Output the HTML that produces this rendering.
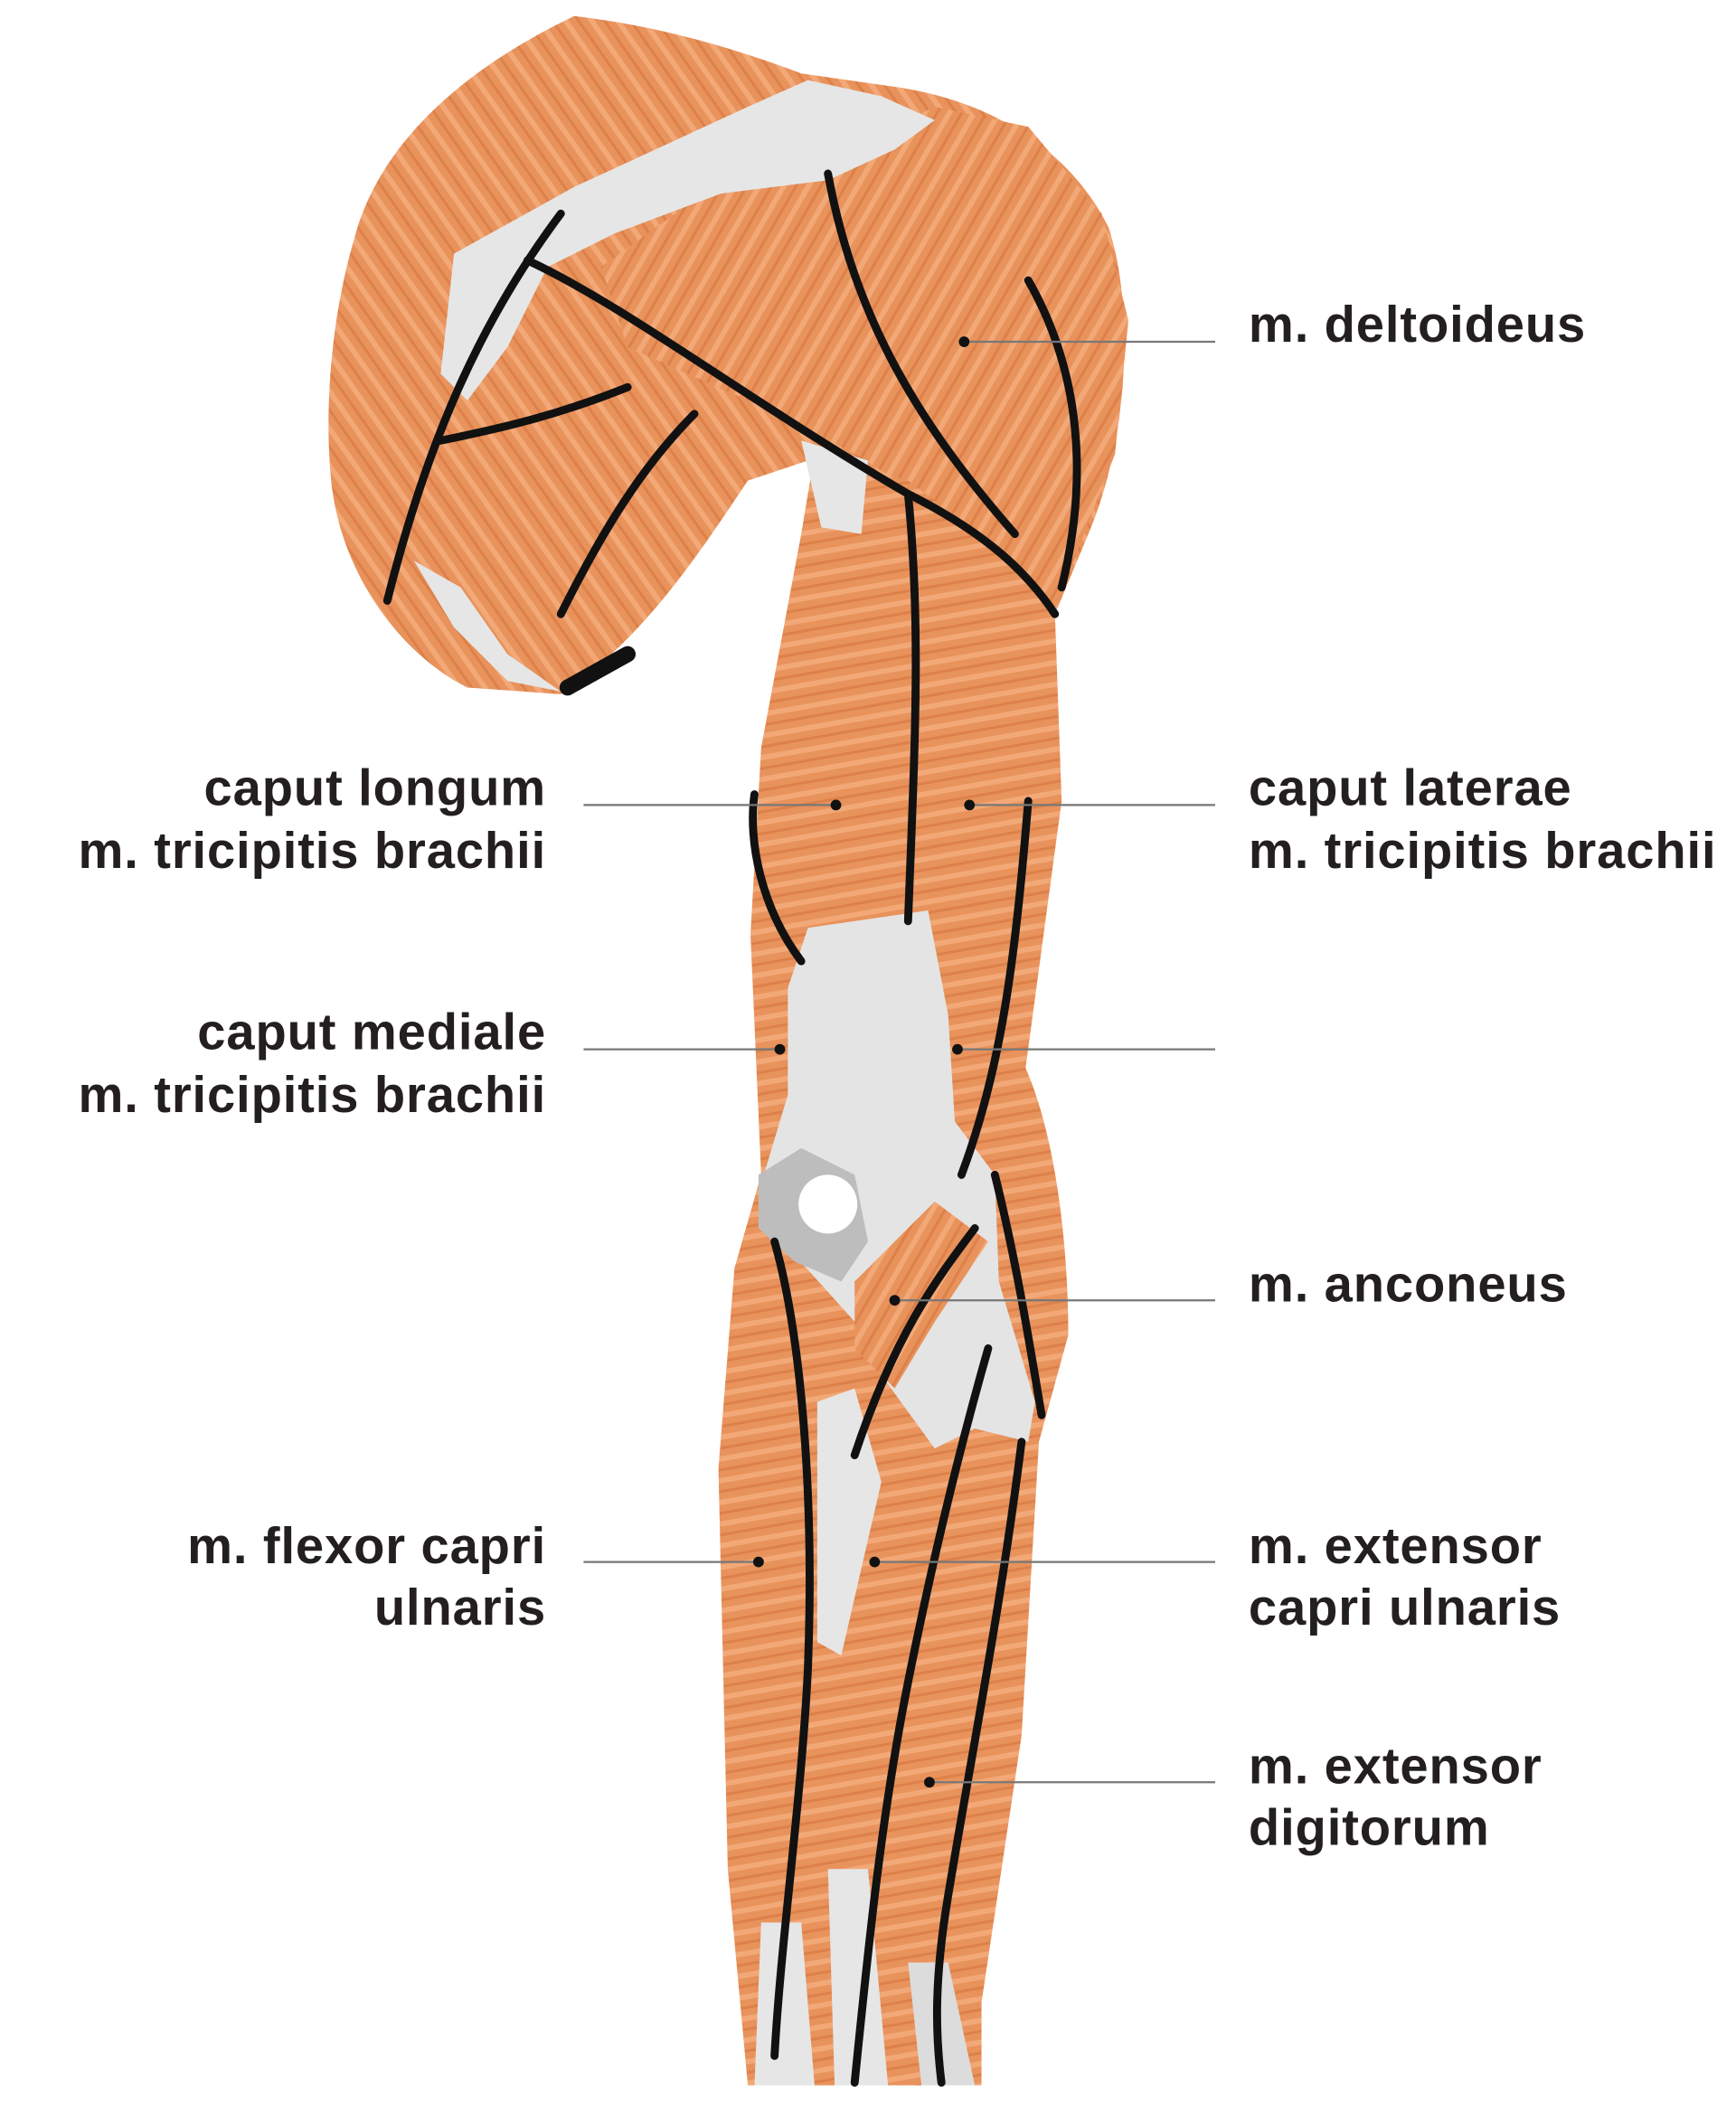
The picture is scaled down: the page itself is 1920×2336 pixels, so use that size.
<!DOCTYPE html>
<html><head><meta charset="utf-8">
<style>
html,body{margin:0;padding:0;background:#fff;}
svg{display:block;}
text{font-family:"Liberation Sans",sans-serif;font-size:38px;fill:#231f20;font-weight:bold;letter-spacing:0.6px;}
</style></head><body>
<svg width="1920" height="2336" viewBox="0 0 1300 1582" preserveAspectRatio="none" xmlns="http://www.w3.org/2000/svg">
<defs>
<pattern id="st" width="16" height="16" patternUnits="userSpaceOnUse" patternTransform="rotate(80)">
<rect width="16" height="16" fill="#e8925c"/>
<rect width="4" height="16" fill="#f2a877"/>
<rect x="9" width="2" height="16" fill="#dd8049"/>
</pattern>
<pattern id="st2" width="16" height="16" patternUnits="userSpaceOnUse" patternTransform="rotate(30)">
<rect width="16" height="16" fill="#e8925c"/>
<rect width="4" height="16" fill="#f2a877"/>
<rect x="9" width="2" height="16" fill="#dd8049"/>
</pattern>
<pattern id="st3" width="16" height="16" patternUnits="userSpaceOnUse" patternTransform="rotate(-35)">
<rect width="16" height="16" fill="#e8925c"/>
<rect width="4" height="16" fill="#f2a877"/>
<rect x="9" width="2" height="16" fill="#dd8049"/>
</pattern>
</defs>
<!-- shoulder/back mass -->
<path d="M265,180 C280,120 330,60 430,12 C500,20 560,40 600,55 L670,65 C740,75 800,110 830,170 C850,230 845,330 815,400 L790,460 L620,340 L560,360 C520,420 480,480 420,520 L350,515 C300,490 255,430 248,360 C242,300 250,230 265,180 Z" fill="url(#st3)"/>
<!-- deltoid -->
<path d="M450,200 L520,150 L620,120 L700,80 L770,95 L825,160 L845,240 L835,340 L800,430 L790,460 L720,390 L640,340 L560,300 L470,260 Z" fill="url(#st2)"/>
<!-- arm -->
<path d="M610,340 L680,360 L760,420 L790,460 L795,600 L768,800 C790,850 800,930 800,1000 L778,1080 L765,1300 L735,1500 L735,1562 L560,1562 L545,1400 L538,1100 L550,950 L570,880 L562,700 L570,560 L600,400 Z" fill="url(#st)"/>
<!-- shoulder tendons -->
<path d="M340,190 L430,140 L560,80 L605,60 L660,72 L700,90 L670,112 L620,135 L540,145 L460,175 L410,200 L380,260 L350,300 L330,280 Z" fill="#e6e6e6"/>
<path d="M600,330 L650,345 L645,400 L615,395 Z" fill="#e6e6e6"/>
<path d="M310,420 L340,470 L380,510 L420,518 L380,490 L345,440 Z" fill="#e6e6e6"/>
<!-- elbow tendon -->
<path d="M605,695 L695,682 L710,760 L715,840 L745,880 L748,960 L775,1050 L770,1080 L730,1070 L700,1085 L660,1030 L640,990 L595,940 L568,915 L572,880 L590,820 L590,740 Z" fill="#e4e4e4"/>
<path d="M568,880 L600,860 L640,880 L650,930 L630,960 L595,945 L568,920 Z" fill="#bdbdbd"/>
<circle cx="620" cy="902" r="22" fill="#fff"/>
<path d="M640,960 L700,900 L740,930 L700,990 L670,1040 L640,1010 Z" fill="url(#st2)"/>
<!-- lower tendons -->
<path d="M570,1440 L600,1440 L610,1562 L565,1562 Z" fill="#e6e6e6"/>
<path d="M620,1400 L650,1400 L665,1562 L625,1562 Z" fill="#e6e6e6"/>
<path d="M680,1470 L710,1470 L730,1562 L690,1562 Z" fill="#dcdcdc"/>
<path d="M612,1050 L640,1040 L660,1110 L630,1240 L612,1230 Z" fill="#e6e6e6"/>
<!-- black lines -->
<g fill="none" stroke="#111" stroke-width="6" stroke-linecap="round">
<path d="M420,160 C360,240 320,330 290,450"/>
<path d="M395,195 C470,230 560,300 680,370 C740,400 770,430 790,460"/>
<path d="M620,130 C640,240 690,320 760,400"/>
<path d="M770,210 C810,280 815,360 795,440"/>
<path d="M330,330 C380,320 420,310 470,290"/>
<path d="M520,310 C480,350 450,400 420,460"/>
<path d="M680,370 C690,470 685,560 680,690"/>
<path d="M770,600 C760,720 750,800 720,880"/>
<path d="M565,595 C560,630 570,680 600,720"/>
<path d="M580,930 C600,1000 610,1120 605,1250 C600,1350 585,1450 580,1540"/>
<path d="M745,880 C760,940 770,1000 780,1060"/>
<path d="M730,920 C700,960 670,1000 640,1090"/>
<path d="M740,1010 C720,1080 700,1160 680,1260 C660,1360 650,1460 640,1560"/>
<path d="M765,1080 C750,1200 730,1300 710,1420 C700,1480 700,1520 705,1560"/>
<path d="M425,515 L470,490" stroke-width="12"/>
</g>
<!-- leader lines -->
<g stroke="#777" stroke-width="1.5">
<line x1="722" y1="256" x2="910" y2="256"/>
<line x1="437" y1="603" x2="626" y2="603"/>
<line x1="726" y1="603" x2="910" y2="603"/>
<line x1="437" y1="786" x2="584" y2="786"/>
<line x1="717" y1="786" x2="910" y2="786"/>
<line x1="670" y1="974" x2="910" y2="974"/>
<line x1="437" y1="1170" x2="568" y2="1170"/>
<line x1="655" y1="1170" x2="910" y2="1170"/>
<line x1="696" y1="1335" x2="910" y2="1335"/>
</g>
<g fill="#111">
<circle cx="722" cy="256" r="4"/><circle cx="626" cy="603" r="4"/><circle cx="726" cy="603" r="4"/>
<circle cx="584" cy="786" r="4"/><circle cx="717" cy="786" r="4"/><circle cx="670" cy="974" r="4"/>
<circle cx="568" cy="1170" r="4"/><circle cx="655" cy="1170" r="4"/><circle cx="696" cy="1335" r="4"/>
</g>
<!-- labels -->
<text x="935" y="256">m. deltoideus</text>
<text x="935" y="603">caput laterae</text>
<text x="935" y="650">m. tricipitis brachii</text>
<text x="935" y="975">m. anconeus</text>
<text x="935" y="1171">m. extensor</text>
<text x="935" y="1217">capri ulnaris</text>
<text x="935" y="1336">m. extensor</text>
<text x="935" y="1382">digitorum</text>
<g text-anchor="end">
<text x="409" y="603">caput longum</text>
<text x="409" y="650">m. tricipitis brachii</text>
<text x="409" y="786">caput mediale</text>
<text x="409" y="833">m. tricipitis brachii</text>
<text x="409" y="1171">m. flexor capri</text>
<text x="409" y="1217">ulnaris</text>
</g>
</svg>
</body></html>
